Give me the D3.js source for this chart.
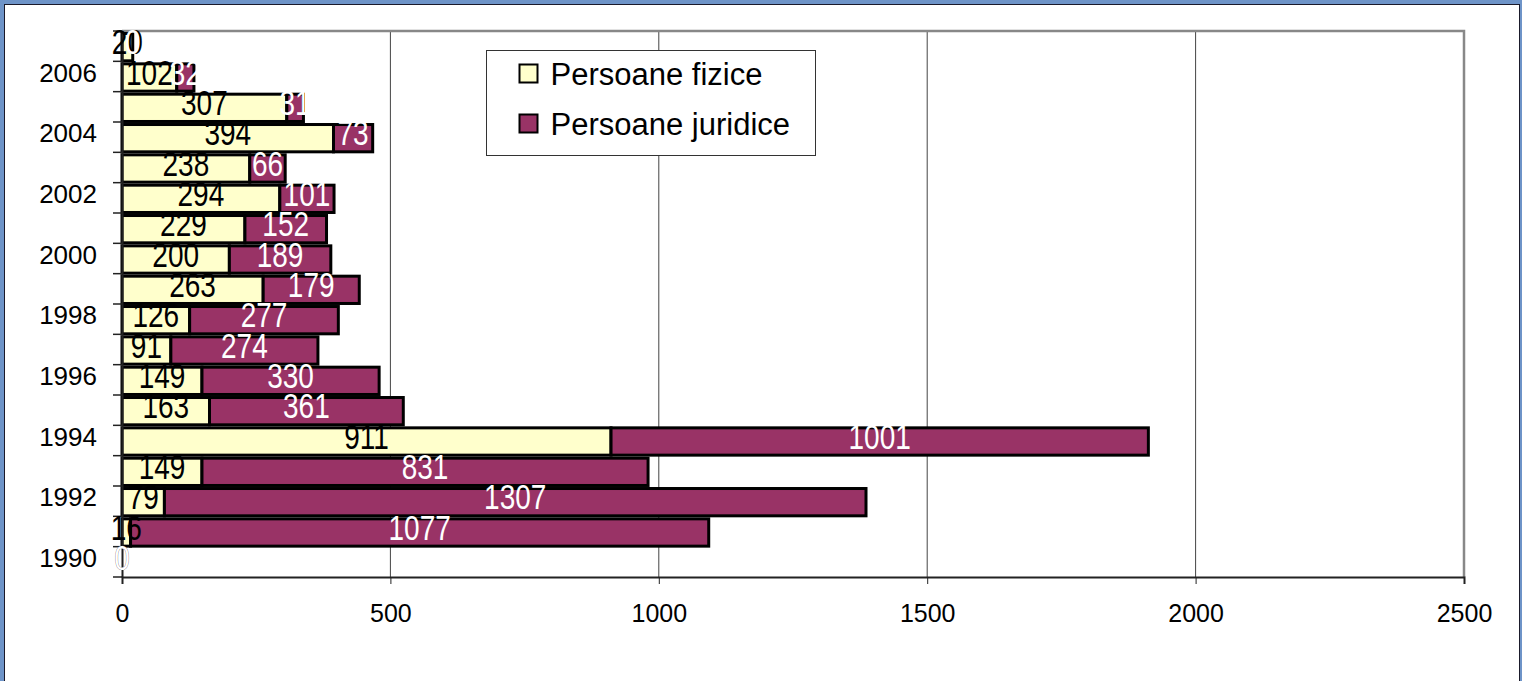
<!DOCTYPE html>
<html>
<head>
<meta charset="utf-8">
<script src="https://cdn.jsdelivr.net/npm/d3@7"></script>
<style>
  body { margin: 0; background: #6e94c8; }
  svg { display: block; }
</style>
</head>
<body>
<div id="chart"></div>
<script>
// Persoane fizice / juridice per year, stacked horizontal bars

var years = [1990, 1991, 1992, 1993, 1994, 1995, 1996, 1997, 1998,
             1999, 2000, 2001, 2002, 2003, 2004, 2005, 2006, 2007];
var fizice   = [0, 16, 79, 149, 911, 163, 149, 91, 126, 263, 200, 229, 294, 238, 394, 307, 102, 20];
var juridice = [0, 1077, 1307, 831, 1001, 361, 330, 274, 277, 179, 189, 152, 101, 66, 73, 31, 32, 0];
var seriesNames = ["Persoane fizice", "Persoane juridice"];
var xTicks = [0, 500, 1000, 1500, 2000, 2500];

var W = 1522, H = 681;
var margin = {top: 31, right: 58, bottom: 104, left: 122},
  width = W - margin.left - margin.right,
  height = H - margin.top - margin.bottom;

var colors = ["#ffffcc", "#993366"];
var labelColors = ["#000", "#fff"];
var font = "'Liberation Sans', Arial, sans-serif";

var svg = d3.select("#chart").append("svg")
  .attr("width", W)
  .attr("height", H);

// white slide panel with dark edge
svg.append("rect")
  .attr("x", 4.5).attr("y", 4.5)
  .attr("width", W - 7).attr("height", H + 10)
  .attr("fill", "#fff")
  .attr("stroke", "#1a1a2a")
  .attr("stroke-width", 1);

var g = svg.append("g")
  .attr("transform", "translate(" + margin.left + "," + margin.top + ")");

var x = d3.scaleLinear()
  .domain([0, 2500])
  .range([0, width]);

var y = d3.scaleBand()
  .domain(years.slice().reverse())
  .range([0, height])
  .paddingInner(0.1)
  .paddingOuter(0.05);

// grid lines
g.selectAll(".grid")
  .data(xTicks.slice(1, -1))
  .enter().append("line")
    .attr("x1", d => x(d)).attr("x2", d => x(d))
    .attr("y1", 0).attr("y2", height)
    .attr("stroke", "#444")
    .attr("stroke-width", 1);

// frame top/right in gray
g.append("path")
  .attr("d", "M0,0H" + width + "V" + height)
  .attr("fill", "none")
  .attr("stroke", "#888")
  .attr("stroke-width", 2.5);

// stacked data
var rows = years.map((yr, i) => ({year: yr, vals: [fizice[i], juridice[i]]}));
var segs = [];
rows.forEach(r => {
  var x0 = 0;
  r.vals.forEach((v, k) => {
    segs.push({year: r.year, k: k, v: v, x0: x0, x1: x0 + v});
    x0 += v;
  });
});

g.selectAll(".bar")
  .data(segs.filter(d => d.v > 0))
  .enter().append("rect")
    .attr("class", "bar")
    .attr("x", d => x(d.x0))
    .attr("width", d => x(d.x1) - x(d.x0))
    .attr("y", d => y(d.year) + 1)
    .attr("height", y.bandwidth())
    .attr("fill", d => colors[d.k])
    .attr("stroke", "#000")
    .attr("stroke-width", 3);

// axes
var xAxis = g.append("g")
  .attr("transform", "translate(0," + height + ")")
  .call(d3.axisBottom(x).tickValues(xTicks).tickFormat(d3.format("d")).tickSize(7).tickPadding(20));
xAxis.select(".domain").attr("stroke", "#222").attr("stroke-width", 2);
xAxis.selectAll(".tick line").attr("stroke", "#222");
xAxis.selectAll("text")
  .attr("font-family", font)
  .attr("font-size", 25)
  .attr("fill", "#000");

var yAxis = g.append("g")
  .call(d3.axisLeft(y).tickValues(years.filter(d => d % 2 === 0)).tickSize(0).tickPadding(25));
yAxis.select(".domain").attr("stroke", "#222").attr("stroke-width", 2);
yAxis.selectAll("text")
  .attr("font-family", font)
  .attr("font-size", 26)
  .attr("dy", "0.2em")
  .attr("fill", "#000");

// category boundary ticks
var bounds = years.map(d => y(d) - y.step() * y.paddingInner() / 2);
bounds.push(height);
g.selectAll(".ytick")
  .data(bounds)
  .enter().append("line")
    .attr("x1", -9).attr("x2", 0)
    .attr("y1", d => d).attr("y2", d => d)
    .attr("stroke", "#222")
    .attr("stroke-width", 1.5);

// value labels (narrow look via horizontal squeeze)
g.selectAll(".lbl")
  .data(segs)
  .enter().append("text")
    .attr("transform", d => "translate(" + ((x(d.x0) + x(d.x1)) / 2) + "," +
      (y(d.year) + y.bandwidth() / 2 + 8) + ") scale(0.8,1)")
    .attr("text-anchor", "middle")
    .attr("font-family", font)
    .attr("font-size", 35)
    .attr("fill", d => labelColors[d.k])
    .text(d => d.v);

// legend
var legend = svg.append("g")
  .attr("transform", "translate(486.5,50.5)");
legend.append("rect")
  .attr("width", 329).attr("height", 105)
  .attr("fill", "#fff")
  .attr("stroke", "#333")
  .attr("stroke-width", 1);
var items = legend.selectAll(".item")
  .data(seriesNames)
  .enter().append("g")
    .attr("transform", (d, i) => "translate(33," + (14 + i * 50) + ")");
items.append("rect")
  .attr("width", 18).attr("height", 18)
  .attr("fill", (d, i) => colors[i])
  .attr("stroke", "#000")
  .attr("stroke-width", 2);
items.append("text")
  .attr("x", 31)
  .attr("y", 20)
  .attr("font-family", font)
  .attr("font-size", 31)
  .attr("fill", "#000")
  .text(d => d);
</script>
</body>
</html>
